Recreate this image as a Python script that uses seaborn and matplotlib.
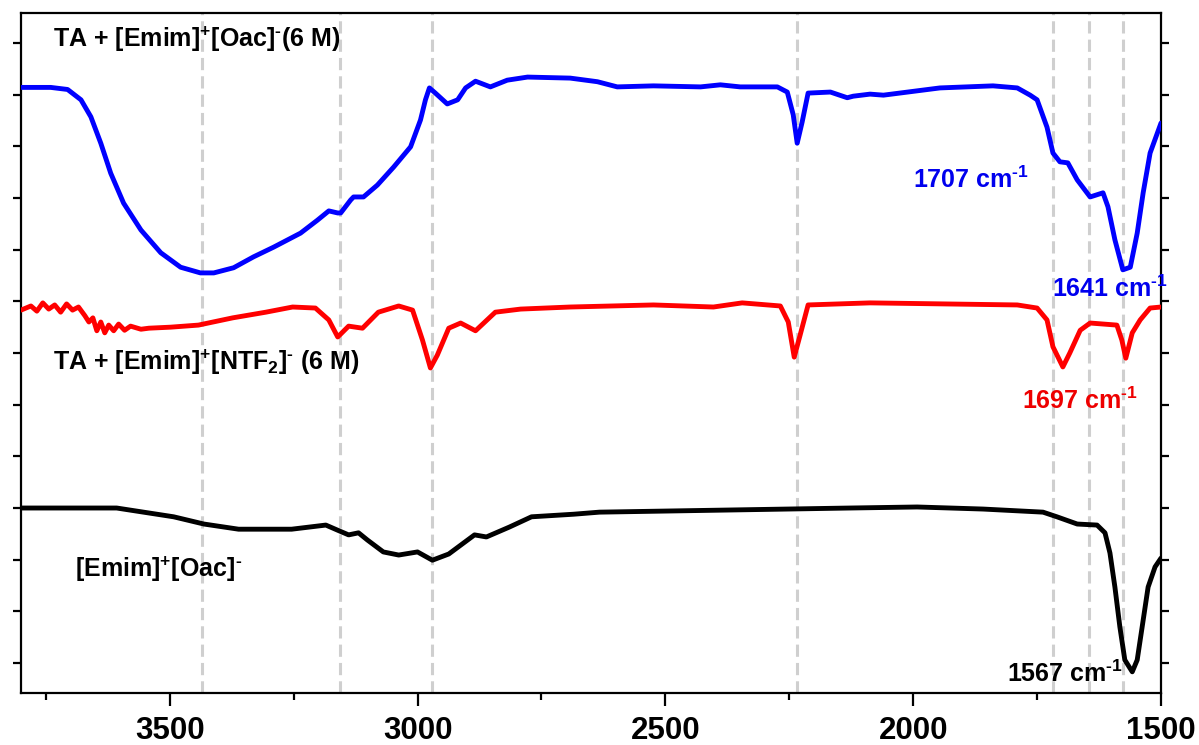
import numpy as np
import pandas as pd
import matplotlib
matplotlib.use("Agg")
import matplotlib.pyplot as plt
import seaborn as sns

# ---- data ----
blue_wn = [3800, 3740, 3706, 3679, 3659, 3639, 3619, 3593, 3558, 3518,
           3478, 3438, 3411, 3371, 3331, 3290, 3236, 3202, 3179, 3161,
           3155, 3135, 3129, 3109, 3081, 3048, 3014, 2994, 2984, 2976,
           2964, 2940, 2919, 2903, 2883, 2853, 2819, 2778, 2692, 2637,
           2597, 2524, 2429, 2389, 2349, 2274, 2254, 2242, 2234, 2224,
           2212, 2167, 2133, 2121, 2087, 2060, 1946, 1839, 1790, 1764,
           1750, 1730, 1718, 1704, 1688, 1669, 1643, 1617, 1607, 1593,
           1577, 1562, 1548, 1536, 1522, 1500]
blue_t = [111.4, 111.4, 111.0, 109.0, 105.7, 100.6, 94.8, 89.0, 83.8, 79.4,
          76.6, 75.5, 75.5, 76.5, 78.6, 80.5, 83.2, 85.7, 87.5, 87.1,
          87.1, 89.6, 90.2, 90.2, 92.5, 96.0, 99.9, 105.1, 109.0, 111.3,
          110.3, 108.2, 109.0, 111.3, 112.6, 111.5, 112.8, 113.4, 113.2, 112.5,
          111.5, 111.7, 111.5, 111.9, 111.5, 111.5, 110.5, 106.1, 100.6, 104.7,
          110.3, 110.5, 109.4, 109.7, 110.1, 109.9, 111.3, 111.7, 111.3, 109.9,
          109.0, 103.7, 98.7, 97.0, 96.8, 93.5, 90.2, 91.0, 88.3, 81.9,
          76.1, 76.6, 83.2, 91.0, 98.7, 104.5]

red_wn = [3800, 3780, 3768, 3756, 3744, 3732, 3720, 3708, 3696, 3684,
          3671, 3663, 3655, 3647, 3639, 3631, 3623, 3613, 3603, 3591,
          3579, 3558, 3542, 3498, 3442, 3373, 3306, 3252, 3206, 3179,
          3161, 3139, 3111, 3079, 3038, 3010, 2990, 2974, 2960, 2937,
          2913, 2883, 2843, 2792, 2692, 2524, 2403, 2345, 2268, 2252,
          2240, 2228, 2212, 2087, 1790, 1750, 1730, 1718, 1698, 1684,
          1663, 1643, 1589, 1579, 1571, 1558, 1542, 1522, 1500]
red_t = [68.3, 69.1, 68.1, 69.7, 68.5, 69.3, 67.9, 69.5, 68.3, 68.9,
         67.2, 66.0, 66.8, 64.3, 66.0, 63.9, 65.4, 64.3, 65.6, 64.4,
         65.2, 64.6, 64.8, 65.0, 65.4, 66.8, 67.9, 68.9, 68.7, 66.4,
         63.1, 65.2, 64.8, 67.9, 69.1, 68.3, 62.5, 57.1, 59.6, 64.8,
         65.8, 64.3, 67.9, 68.5, 68.9, 69.3, 68.9, 69.7, 69.1, 66.0,
         59.2, 63.5, 69.3, 69.7, 69.3, 68.7, 66.4, 61.2, 57.3, 60.0,
         64.4, 65.8, 65.4, 62.5, 59.0, 63.9, 66.4, 68.7, 68.9]

black_wn = [3800, 3607, 3492, 3431, 3361, 3254, 3185, 3161, 3139, 3119,
            3101, 3069, 3038, 3000, 2970, 2937, 2885, 2861, 2815, 2770,
            2685, 2633, 2127, 1992, 1859, 1738, 1710, 1669, 1629, 1613,
            1603, 1593, 1583, 1573, 1558, 1548, 1538, 1526, 1512, 1500]
black_t = [30.0, 30.0, 28.3, 26.9, 25.9, 25.9, 26.7, 25.7, 24.8, 25.2,
           23.8, 21.5, 20.9, 21.5, 19.9, 21.1, 24.8, 24.4, 26.3, 28.3,
           28.8, 29.2, 30.0, 30.2, 29.8, 29.2, 28.3, 26.9, 26.7, 25.2,
           21.3, 14.7, 7.0, 0.6, -1.7, 0.6, 7.0, 14.7, 18.6, 20.3]

ref_lines = [3434, 3157, 2970, 2234, 1717, 1645, 1577]
x_major = [3500, 3000, 2500, 2000, 1500]
x_minor = [3750, 3250, 2750, 2250, 1750]

series_names = ["TA + Oac", "TA + NTF2", "Emim Oac"]
series_colors = ["#0000ff", "#ff0000", "#000000"]

df = pd.concat([
    pd.DataFrame({"wn": blue_wn, "t": blue_t, "s": series_names[0]}),
    pd.DataFrame({"wn": red_wn, "t": red_t, "s": series_names[1]}),
    pd.DataFrame({"wn": black_wn, "t": black_t, "s": series_names[2]}),
], ignore_index=True)

sns.set_theme(style="ticks")
plt.rcParams["font.family"] = ["Liberation Sans", "DejaVu Sans"]
plt.rcParams["font.weight"] = "bold"
plt.rcParams["mathtext.fontset"] = "custom"
plt.rcParams["mathtext.rm"] = "Liberation Sans:bold"
plt.rcParams["mathtext.bf"] = "Liberation Sans:bold"
plt.rcParams["mathtext.it"] = "Liberation Sans:bold"
plt.rcParams["mathtext.sf"] = "Liberation Sans:bold"
plt.rcParams["mathtext.default"] = "rm"
for key in ["text.color", "axes.edgecolor", "axes.labelcolor",
            "xtick.color", "ytick.color", "xtick.labelcolor", "ytick.labelcolor"]:
    plt.rcParams[key] = "black"

fig = plt.figure(figsize=(11.99, 7.45), dpi=100)
ax = fig.add_axes([21 / 1199, 52 / 745, 1140 / 1199, 680 / 745])

for x in ref_lines:
    ax.axvline(x, color="#cfcfcf", lw=2.2, ls=(0, (4, 2)), zorder=0)

sns.lineplot(data=df, x="wn", y="t", hue="s", hue_order=series_names,
             palette=dict(zip(series_names, series_colors)),
             estimator=None, sort=False, lw=3.5, legend=False, ax=ax, zorder=3,
             solid_joinstyle="round", solid_capstyle="round")

ax.set_xlim(3800, 1500)
ax.set_ylim(-5.8, 125.8)
ax.set_xticks(x_major)
ax.set_xticks(x_minor, minor=True)
ax.set_xticklabels([str(v) for v in x_major], fontsize=22.5, fontweight="bold")
ax.set_yticks(np.arange(0, 121, 10))
ax.set_yticklabels([])
ax.tick_params(axis="x", which="major", length=9.5, width=1.6, direction="out", pad=7)
ax.tick_params(axis="x", which="minor", length=5, width=1.6, direction="out")
ax.tick_params(axis="y", which="major", length=5.5, width=1.6, direction="out",
               left=True, right=True)
for sp in ax.spines.values():
    sp.set_linewidth(1.6)
    sp.set_visible(True)
    sp.set_color("black")
ax.set_xlabel("")
ax.set_ylabel("")

fs = 18
ax.text(3736, 119.2, r"TA + [Emim]$^{+}$[Oac]$^{\text{-}}$(6 M)", fontsize=fs,
        fontweight="bold", color="black", ha="left", va="baseline")
ax.text(3736, 56.7, r"TA + [Emim]$^{+}$[NTF$_{2}$]$^{\text{-}}$ (6 M)", fontsize=fs,
        fontweight="bold", color="black", ha="left", va="baseline")
ax.text(3692, 16.6, r"[Emim]$^{+}$[Oac]$^{\text{-}}$", fontsize=fs,
        fontweight="bold", color="black", ha="left", va="baseline")
ax.text(2000, 91.9, r"1707 cm$^{\text{-1}}$", fontsize=fs, fontweight="bold",
        color="#0000ee", ha="left", va="baseline")
ax.text(1720, 70.8, r"1641 cm$^{\text{-1}}$", fontsize=fs, fontweight="bold",
        color="#0000ee", ha="left", va="baseline", zorder=5)
ax.text(1780, 49.2, r"1697 cm$^{\text{-1}}$", fontsize=fs, fontweight="bold",
        color="#ee0000", ha="left", va="baseline")
ax.text(1811, -3.6, r"1567 cm$^{\text{-1}}$", fontsize=fs, fontweight="bold",
        color="black", ha="left", va="baseline", zorder=5)

fig.savefig("out.png", dpi=100)
